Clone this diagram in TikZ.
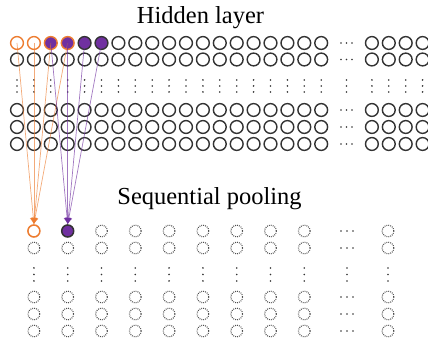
\documentclass[tikz,border=0pt]{standalone}
\usepackage{fontspec}
\setmainfont{Liberation Serif}
\definecolor{poolorange}{RGB}{237,125,49}
\definecolor{poolpurple}{RGB}{112,48,160}
\definecolor{unitgray}{RGB}{51,51,51}
\usetikzlibrary{arrows.meta}

\begin{document}
\begin{tikzpicture}[x=0.025cm, y=-0.025cm,
    unit/.style={circle, draw=unitgray, line width=1pt, minimum size=0.32cm, inner sep=0pt},
    poolunit/.style={circle, draw=black!70, dash pattern=on 0.6pt off 0.8pt, line width=0.8pt,
      minimum size=0.29cm, inner sep=0pt},
    title/.style={anchor=base, font=\fontsize{17.4}{20}\selectfont},
    link/.style={line width=0.5pt, draw opacity=0.65, -{Latex[length=4.5pt,width=5pt]}}
  ]
  \useasboundingbox (0,0) rectangle (428,346);

  \node[title] (hidden)  at (200.5,24) {Hidden layer};
  \node[title] (pooling) at (209.5,205) {Sequential pooling};

  % hidden layer units (first row holds the coloured ones)
  \node[unit, draw=poolorange]                   (h1-0) at (17.0,43) {};
  \node[unit, draw=poolorange]                   (h1-1) at (33.9,43) {};
  \node[unit, draw=poolorange, fill=poolpurple]  (h1-2) at (50.8,43) {};
  \node[unit, draw=poolorange, fill=poolpurple]  (h1-3) at (67.7,43) {};
  \node[unit, fill=poolpurple]                   (h1-4) at (84.6,43) {};
  \node[unit, fill=poolpurple]                   (h1-5) at (101.5,43) {};
  \foreach \k in {6,...,18,21,22,23,24}
    \node[unit] (h1-\k) at ({17+16.9*\k},43) {};
  \foreach \r/\y in {2/59.5, 3/110, 4/127, 5/144}
    \foreach \k in {0,...,18,21,22,23,24}
      \node[unit] (h\r-\k) at ({17+16.9*\k},\y) {};

  % ellipses
  \foreach \y in {43, 59.5, 110, 127, 144}
    \foreach \dx in {-5.5,0,5.5}
      \fill[black!80] ({346.5+\dx},\y) circle (0.9);
  \foreach \x in {0,...,18,19.5,21,22,23,24}
    \foreach \y in {80,86,92}
      \fill[black!80] ({17+16.9*\x},\y) circle (0.9);

  % pooled units
  \node[unit, draw=poolorange, line width=1.1pt, minimum size=0.3cm] (p1-0) at (33.9,231) {};
  \node[unit, fill=poolpurple, line width=1.1pt, minimum size=0.3cm] (p1-1) at (67.7,231) {};
  \foreach \j in {2,...,8}
    \node[poolunit] (p1-\j) at ({33.9+33.8*\j},231) {};
  \node[poolunit] (p1-9) at (388,231) {};
  \foreach \r/\y in {2/248, 3/297, 4/314, 5/331} {
    \foreach \j in {0,...,8}
      \node[poolunit] (p\r-\j) at ({33.9+33.8*\j},\y) {};
    \node[poolunit] (p\r-9) at (388,\y) {};
  }
  \foreach \y in {231, 248, 297, 314, 331}
    \foreach \dx in {-6,0,6}
      \fill[black!80] ({347+\dx},\y) circle (0.9);
  \foreach \x in {33.9,67.7,101.5,135.3,169.1,202.9,236.7,270.5,304.3,347,388}
    \foreach \y in {268,274.5,281}
      \fill[black!80] (\x,\y) circle (0.9);

  % pooling windows
  \foreach \k in {0,...,3}
    \draw[link, poolorange] (h1-\k.center) -- (p1-0.north);
  \foreach \k in {2,...,5}
    \draw[link, poolpurple] (h1-\k.center) -- (p1-1.north);
\end{tikzpicture}
\end{document}
